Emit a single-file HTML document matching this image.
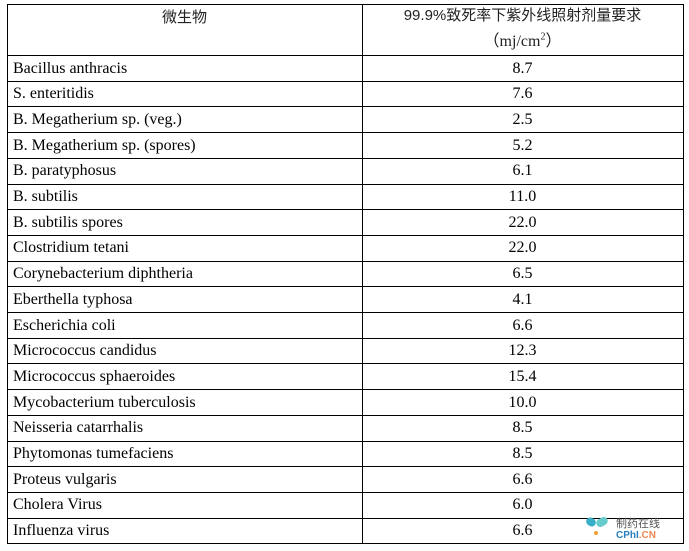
<html><head><style>
body{margin:0;width:689px;height:551px;background:#fff;position:relative;overflow:hidden;font-family:"Liberation Serif","Noto Serif CJK SC",serif;font-size:16px;color:#000}
.h{position:absolute;left:7px;width:676px;height:1px;background:#000}
.v{position:absolute;top:4px;width:1px;height:540px;background:#000}
.r{position:absolute;left:7px;width:676px;height:25.7px;line-height:25.7px}
.r span{position:absolute}
.a{left:6px}.b{left:355px;width:321px;text-align:center}
</style></head><body>
<div class="v" style="left:7px"></div><div class="v" style="left:362px"></div><div class="v" style="left:683px"></div>
<div class="h" style="top:4px"></div>
<div style="position:absolute;left:7px;width:355px;top:6px;text-align:center;font-family:'Noto Sans CJK SC',sans-serif;font-size:15px;color:#222">微生物</div>
<div style="position:absolute;left:362px;width:321px;top:5px;text-align:center;font-family:'Liberation Sans','Noto Sans CJK SC',sans-serif;font-size:15px;line-height:22px;color:#222">99.9%致死率下紫外线照射剂量要求<br><span style="font-family:'Liberation Serif','Noto Sans CJK SC',serif;font-size:16px">（mj/cm<sup style="font-size:10px">2</sup>）</span></div>
<div id="t"></div>
<div style="position:absolute;left:586px;top:516px;width:30px;height:24px">
<div style="position:absolute;left:0;top:2px;width:10px;height:8px;background:#3ab0c8;border-radius:4px;transform:rotate(30deg)"></div>
<div style="position:absolute;left:10px;top:2px;width:12px;height:8px;background:#6cc;border-radius:4px;transform:rotate(-30deg)"></div>
<div style="position:absolute;left:8px;top:15px;width:4px;height:4px;background:#f0a030;border-radius:2px"></div></div>
<div style="position:absolute;left:616px;top:515px;font-family:'Noto Sans CJK SC',sans-serif;font-size:11px;color:#555">制药在线</div>
<div style="position:absolute;left:616px;top:530px;font-family:'Liberation Sans',sans-serif;font-size:10px;font-weight:bold;color:#2a7fc0">CPhI<span style="color:#e85">.CN</span></div>
<script>
var d=[["Bacillus anthracis","8.7"],["S. enteritidis","7.6"],["B. Megatherium sp. (veg.)","2.5"],["B. Megatherium sp. (spores)","5.2"],["B. paratyphosus","6.1"],["B. subtilis","11.0"],["B. subtilis spores","22.0"],["Clostridium tetani","22.0"],["Corynebacterium diphtheria","6.5"],["Eberthella typhosa","4.1"],["Escherichia coli","6.6"],["Micrococcus candidus","12.3"],["Micrococcus sphaeroides","15.4"],["Mycobacterium tuberculosis","10.0"],["Neisseria catarrhalis","8.5"],["Phytomonas tumefaciens","8.5"],["Proteus vulgaris","6.6"],["Cholera Virus","6.0"],["Influenza virus","6.6"]];
var h="";for(var i=0;i<d.length;i++){var y=55+i*25.7;h+='<div class="h" style="top:'+y+'px"></div><div class="r" style="top:'+(y+0.5)+'px"><span class="a">'+d[i][0]+'</span><span class="b">'+d[i][1]+'</span></div>';}
h+='<div class="h" style="top:543px"></div>';document.getElementById("t").innerHTML=h;
</script>
</body></html>
